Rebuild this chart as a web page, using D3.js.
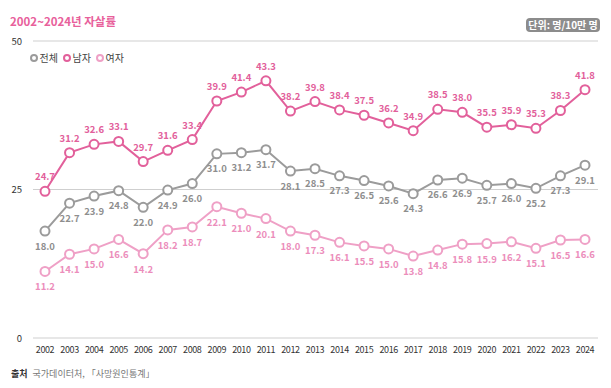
<!DOCTYPE html>
<html>
<head>
<meta charset="utf-8">
<script src="https://cdn.jsdelivr.net/npm/d3@7"></script>
<style>
  body { margin: 0; background: #fff; }
  svg { font-family: "Noto Sans CJK KR", "Noto Sans", sans-serif; }
</style>
</head>
<body>
<script>
let years = d3.range(2002, 2025)
let total = [18.0, 22.7, 23.9, 24.8, 22.0, 24.9, 26.0, 31.0, 31.2, 31.7, 28.1, 28.5, 27.3, 26.5, 25.6, 24.3, 26.6, 26.9, 25.7, 26.0, 25.2, 27.3, 29.1]
let male = [24.7, 31.2, 32.6, 33.1, 29.7, 31.6, 33.4, 39.9, 41.4, 43.3, 38.2, 39.8, 38.4, 37.5, 36.2, 34.9, 38.5, 38.0, 35.5, 35.9, 35.3, 38.3, 41.8]
let female = [11.2, 14.1, 15.0, 16.6, 14.2, 18.2, 18.7, 22.1, 21.0, 20.1, 18.0, 17.3, 16.1, 15.5, 15.0, 13.8, 14.8, 15.8, 15.9, 16.2, 15.1, 16.5, 16.6]
let yTicks = [0, 25, 50]
let seriesNames = ['전체', '남자', '여자']

let width = 611, height = 388

let svg = d3.select('body').append('svg')
    .attr('width', width)
    .attr('height', height)

let x = d3.scalePoint().domain(years).range([45, 585])
let y = d3.scaleLinear().domain([0, 50]).range([338, 41])

// title + unit badge
svg.append('text')
    .attr('x', 10).attr('y', 26)
    .attr('fill', '#e8609b')
    .attr('font-size', 11.5).attr('font-weight', 700)
    .text('2002~2024년 자살률')

let badge = svg.append('g').attr('transform', 'translate(526, 18)')
badge.append('rect')
    .attr('width', 74).attr('height', 14).attr('rx', 4)
    .attr('fill', '#8c8c8c')
badge.append('text')
    .attr('x', 37).attr('y', 11)
    .attr('text-anchor', 'middle')
    .attr('fill', '#fff')
    .attr('font-size', 10).attr('font-weight', 700)
    .text('단위: 명/10만 명')

// grid
svg.append('g').selectAll('line')
    .data(yTicks).enter().append('line')
    .attr('x1', 33).attr('x2', 598)
    .attr('y1', d => y(d)).attr('y2', d => y(d))
    .attr('stroke', '#cfcfcf').attr('stroke-width', 1)

svg.append('g').selectAll('text')
    .data(yTicks).enter().append('text')
    .attr('x', 22).attr('y', d => y(d) + 3.5)
    .attr('text-anchor', 'end')
    .attr('font-size', 9.5).attr('fill', '#333')
    .text(d => d)

// x axis labels
svg.append('g').selectAll('text')
    .data(years).enter().append('text')
    .attr('x', d => x(d)).attr('y', 353)
    .attr('text-anchor', 'middle')
    .attr('font-size', 9).attr('fill', '#333')
    .attr('letter-spacing', -0.4)
    .text(d => d)

let series = [
  { name: '전체', values: total, color: '#9b9b9b', text: '#8e8e8e', dy: 18.5 },
  { name: '남자', values: male, color: '#e2609b', text: '#e2609b', dy: -11 },
  { name: '여자', values: female, color: '#efa0c6', text: '#ec8dbb', dy: 19 }
]

let line = d3.line().x((d, i) => x(years[i])).y(d => y(d))

series.forEach(s => {
  let g = svg.append('g')
  g.append('path')
      .attr('d', line(s.values))
      .attr('fill', 'none')
      .attr('stroke', s.color)
      .attr('stroke-width', 2)
  g.selectAll('circle')
      .data(s.values).enter().append('circle')
      .attr('cx', (d, i) => x(years[i]))
      .attr('cy', d => y(d))
      .attr('r', 4.5)
      .attr('fill', '#fff')
      .attr('stroke', s.color)
      .attr('stroke-width', 2)
  g.selectAll('text')
      .data(s.values).enter().append('text')
      .attr('x', (d, i) => x(years[i]))
      .attr('y', d => y(d) + s.dy)
      .attr('text-anchor', 'middle')
      .attr('font-size', 9.5).attr('font-weight', 700)
      .attr('fill', s.text)
      .text(d => d.toFixed(1))
})

// legend
let legend = svg.append('g').attr('transform', 'translate(34, 58)')
let lx = [0, 33, 66]
series.forEach((s, i) => {
  legend.append('circle')
      .attr('cx', lx[i]).attr('cy', 0).attr('r', 3)
      .attr('fill', '#fff').attr('stroke', s.color).attr('stroke-width', 2)
  legend.append('text')
      .attr('x', lx[i] + 5.5).attr('y', 3.8)
      .attr('font-size', 10).attr('fill', '#444')
      .text(seriesNames[i])
})

// source
let src = svg.append('text').attr('x', 11).attr('y', 377).attr('font-size', 9)
src.append('tspan').attr('font-weight', 700).attr('fill', '#333').text('출처')
src.append('tspan').attr('dx', 5).attr('fill', '#777').text('국가데이터처, 「사망원인통계」')
</script>
</body>
</html>
